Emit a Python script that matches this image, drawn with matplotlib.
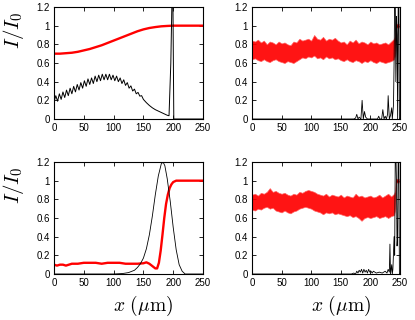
import matplotlib
matplotlib.use("Agg")
import matplotlib.pyplot as plt
import numpy as np

plt.rcParams['font.family'] = ['Liberation Sans', 'DejaVu Sans']
plt.rcParams['mathtext.fontset'] = 'cm'

# ---------------- data ----------------
# Top-left: red (smooth transmission) and black (zig-zag oscillation then spike)
tl_red_x = [0, 10, 20, 30, 40, 50, 60, 70, 80, 90, 100, 110, 120, 130, 140, 150, 160, 170, 180, 190, 200, 225, 250]
tl_red_y = [0.70, 0.70, 0.705, 0.71, 0.72, 0.735, 0.75, 0.77, 0.79, 0.815, 0.84, 0.865, 0.89, 0.915, 0.94, 0.96, 0.975, 0.985, 0.993, 0.997, 1.0, 1.0, 1.0]

tl_black_x = [0, 3, 6, 9, 12, 15, 18, 21, 24, 27, 30, 33, 36, 39, 42, 45, 48, 51, 54, 57,
              60, 63, 66, 69, 72, 75, 78, 81, 84, 87, 90, 93, 96, 99, 102, 105, 108, 111,
              114, 117, 120, 123, 126, 129, 132, 135, 138, 141, 144, 147, 150, 155, 160,
              165, 170, 175, 180, 185, 190, 193, 196, 198, 199.5, 201, 225, 250]
tl_black_y = [0.18, 0.25, 0.19, 0.27, 0.21, 0.29, 0.23, 0.31, 0.25, 0.33, 0.27, 0.35, 0.29, 0.37, 0.31, 0.39, 0.33, 0.41, 0.35, 0.43,
              0.37, 0.44, 0.38, 0.46, 0.40, 0.47, 0.41, 0.48, 0.42, 0.48, 0.42, 0.48, 0.42, 0.47, 0.41, 0.46, 0.40, 0.44,
              0.38, 0.42, 0.36, 0.39, 0.33, 0.355, 0.30, 0.32, 0.27, 0.285, 0.245, 0.25, 0.21, 0.175, 0.145,
              0.12, 0.10, 0.085, 0.07, 0.055, 0.04, 0.035, 0.6, 1.3, 1.3, 0.0, 0.0, 0.0]

# Top-right: noisy red band (envelopes) and black spikes near the end
tr_band_x = [0, 5, 10, 15, 20, 25, 30, 35, 40, 45, 50, 55, 60, 65, 70, 75, 80, 85, 90, 95,
             100, 105, 110, 115, 120, 125, 130, 135, 140, 145, 150, 155, 160, 165, 170, 175,
             180, 185, 190, 195, 200, 205, 210, 215, 220, 225, 230, 235, 240, 242, 243, 248]
tr_band_hi = [0.84, 0.83, 0.85, 0.82, 0.84, 0.80, 0.83, 0.82, 0.80, 0.83, 0.81, 0.82, 0.80, 0.79, 0.83, 0.82, 0.86, 0.84, 0.85, 0.86,
              0.84, 0.90, 0.86, 0.85, 0.88, 0.84, 0.86, 0.85, 0.87, 0.84, 0.82, 0.83, 0.80, 0.84, 0.82, 0.85,
              0.81, 0.83, 0.82, 0.80, 0.83, 0.81, 0.82, 0.80, 0.81, 0.82, 0.80, 0.83, 0.86, 0.9, 1.02, 1.02]
tr_band_lo = [0.64, 0.65, 0.63, 0.62, 0.64, 0.62, 0.61, 0.63, 0.64, 0.62, 0.61, 0.60, 0.62, 0.61, 0.60, 0.62, 0.64, 0.66, 0.65, 0.67,
              0.66, 0.68, 0.65, 0.66, 0.64, 0.67, 0.65, 0.66, 0.64, 0.65, 0.63, 0.62, 0.64, 0.62, 0.61, 0.63,
              0.62, 0.60, 0.62, 0.61, 0.63, 0.61, 0.60, 0.62, 0.61, 0.60, 0.61, 0.62, 0.64, 0.7, 0.98, 0.98]

tr_black_x = [0, 172, 175, 177, 179, 181, 184, 186, 188, 190, 192, 195, 205, 212, 214, 216, 219, 221, 223,
              225, 227, 229, 230, 232, 234, 236, 237, 239, 240, 241, 242, 243, 244, 245, 246, 247, 248, 249, 250]
tr_black_y = [0, 0, 0.01, 0.05, 0.0, 0.02, 0.0, 0.2, 0.0, 0.08, 0.02, 0.0, 0.0, 0.0, 0.03, 0.0, 0.0, 0.1, 0.0,
              0.03, 0.0, 0.05, 0.25, 0.0, 0.04, 0.12, 0.0, 0.15, 0.6, 1.3, 1.3, 0.4, 1.1, 0.9, 0.0, 1.3, 1.3, 0.0, 0.0]

# Bottom-left: red step-like curve and black Gaussian pulse
bl_red_x = [0, 5, 10, 15, 20, 30, 40, 50, 60, 70, 80, 90, 100, 110, 120, 130, 140, 150, 155, 160,
            165, 170, 173, 176, 179, 182, 185, 188, 191, 194, 197, 200, 205, 210, 220, 250]
bl_red_y = [0.10, 0.09, 0.10, 0.10, 0.09, 0.11, 0.11, 0.12, 0.12, 0.12, 0.11, 0.12, 0.12, 0.12, 0.11, 0.11, 0.11, 0.115, 0.125, 0.11,
            0.085, 0.06, 0.06, 0.12, 0.25, 0.42, 0.6, 0.75, 0.85, 0.92, 0.96, 0.985, 1.0, 1.0, 1.0, 1.0]
bl_black_x = [0, 100, 115, 125, 135, 140, 145, 150, 155, 160, 165, 170, 175, 180, 183, 186, 190, 195, 200, 205, 210, 215, 220, 250]
bl_black_y = [0, 0.0, 0.005, 0.015, 0.04, 0.07, 0.11, 0.17, 0.27, 0.42, 0.62, 0.85, 1.05, 1.18, 1.2, 1.16, 1.02, 0.78, 0.5, 0.26, 0.1, 0.03, 0.0, 0.0]

# Bottom-right: noisy red band and black spikes
br_band_x = tr_band_x
br_band_hi = [0.85, 0.86, 0.84, 0.87, 0.86, 0.88, 0.92, 0.88, 0.89, 0.87, 0.86, 0.87, 0.85, 0.84, 0.86, 0.85, 0.88, 0.87, 0.89, 0.90,
              0.89, 0.88, 0.86, 0.85, 0.84, 0.86, 0.83, 0.85, 0.84, 0.83, 0.85, 0.82, 0.84, 0.83, 0.82, 0.86,
              0.83, 0.84, 0.82, 0.83, 0.84, 0.82, 0.83, 0.85, 0.82, 0.84, 0.86, 0.83, 0.86, 0.9, 1.02, 1.02]
br_band_lo = [0.69, 0.68, 0.70, 0.69, 0.71, 0.72, 0.70, 0.71, 0.68, 0.67, 0.66, 0.68, 0.66, 0.65, 0.67, 0.68, 0.70, 0.71, 0.72, 0.71,
              0.70, 0.68, 0.67, 0.66, 0.64, 0.66, 0.65, 0.66, 0.64, 0.65, 0.64, 0.63, 0.62, 0.63, 0.61, 0.62,
              0.60, 0.57, 0.60, 0.61, 0.60, 0.61, 0.62, 0.60, 0.61, 0.62, 0.60, 0.62, 0.63, 0.7, 0.98, 0.98]
br_black_x = [0, 168, 172, 175, 177, 179, 181, 183, 185, 187, 189, 191, 193, 195, 197, 199, 201, 203, 205, 210, 215,
              220, 225, 228, 230, 232, 233, 234, 236, 237, 238, 240, 241, 242, 243, 244, 245, 246, 247, 248, 249, 250]
br_black_y = [0, 0, 0.01, 0.0, 0.03, 0.01, 0.04, 0.02, 0.05, 0.01, 0.05, 0.02, 0.04, 0.01, 0.05, 0.02, 0.03, 0.01, 0.03, 0.01, 0.02,
              0.01, 0.03, 0.01, 0.05, 0.02, 0.32, 0.0, 0.1, 0.0, 0.05, 0.4, 0.2, 1.3, 1.3, 1.0, 0.3, 0.4, 1.3, 1.3, 0.0, 0.0]

xticks = [0, 50, 100, 150, 200, 250]
yticks = [0, 0.2, 0.4, 0.6, 0.8, 1.0, 1.2]
yticklabels = ['0', '0.2', '0.4', '0.6', '0.8', '1', '1.2']

# ---------------- figure ----------------
W, H = 415, 320
fig = plt.figure(figsize=(W / 100, H / 100), dpi=100)

def px_axes(l, t, r, b):
    return fig.add_axes([l / W, 1 - b / H, (r - l) / W, (b - t) / H])

ax_tl = px_axes(54, 7, 203, 119)
ax_tr = px_axes(252, 7, 400, 119)
ax_bl = px_axes(54, 162, 203, 274)
ax_br = px_axes(252, 162, 400, 274)

red = '#ff0000'

ax_tl.plot(tl_red_x, tl_red_y, color=red, lw=1.7, zorder=2)
ax_tl.plot(tl_black_x, tl_black_y, color='black', lw=0.7, zorder=3)

ax_tr.fill_between(tr_band_x, tr_band_lo, tr_band_hi, facecolor=red, edgecolor='#ff6060',
                   lw=0.5, alpha=0.92, zorder=2)
ax_tr.plot(tr_black_x, tr_black_y, color='black', lw=0.6, zorder=3)

ax_bl.plot(bl_red_x, bl_red_y, color=red, lw=1.7, zorder=2)
ax_bl.plot(bl_black_x, bl_black_y, color='black', lw=0.6, zorder=3)

ax_br.fill_between(br_band_x, br_band_lo, br_band_hi, facecolor=red, edgecolor='#ff6060',
                   lw=0.5, alpha=0.92, zorder=2)
ax_br.plot(br_black_x, br_black_y, color='black', lw=0.6, zorder=3)

for ax in (ax_tl, ax_tr, ax_bl, ax_br):
    ax.set_xlim(0, 250)
    ax.set_ylim(0, 1.2)
    ax.set_xticks(xticks)
    ax.set_xticklabels([str(v) for v in xticks])
    ax.set_yticks(yticks)
    ax.set_yticklabels(yticklabels)
    ax.tick_params(direction='in', length=3, width=0.6, labelsize=7, pad=3,
                   top=True, right=True)
    for s in ax.spines.values():
        s.set_linewidth(0.8)

for ax in (ax_tl, ax_bl):
    ax.set_ylabel(r'$I/I_0$', fontsize=15)
    ax.yaxis.set_label_coords(-0.19, 0.79)

for ax in (ax_bl, ax_br):
    ax.set_xlabel(r'$x\ (\mu\mathrm{m})$', fontsize=14)
    ax.xaxis.set_label_coords(0.6, -0.18)

fig.savefig('out.png', dpi=100)
